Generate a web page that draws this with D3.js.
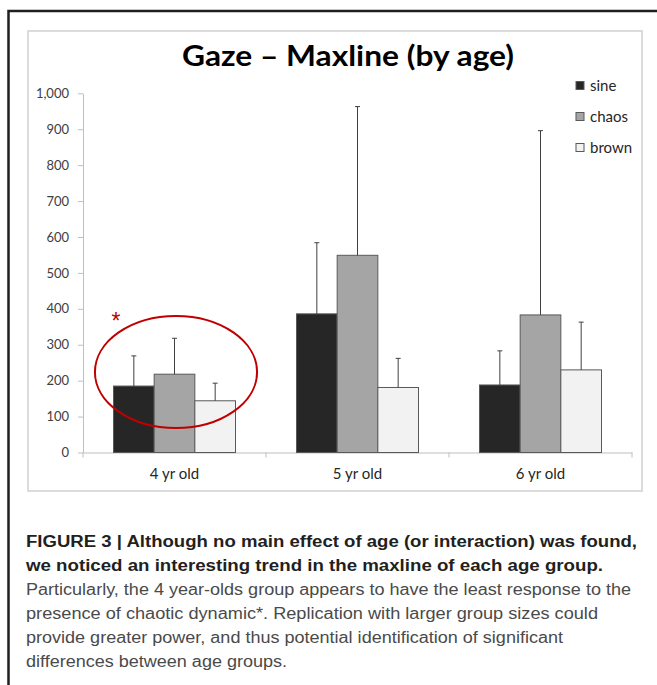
<!DOCTYPE html>
<html>
<head>
<meta charset="utf-8">
<script src="https://cdn.jsdelivr.net/npm/d3@7"></script>
<style>
  html, body { margin: 0; padding: 0; background: #fff; }
  svg { display: block; }
</style>
</head>
<body>
<svg id="chart" width="657" height="685"></svg>
<script>
// ---- Data ----
const categories = ["4 yr old", "5 yr old", "6 yr old"];
const seriesNames = ["sine", "chaos", "brown"];
const sineValues  = [185, 386, 188];
const chaosValues = [218, 549, 383];
const brownValues = [144, 181, 230];
const sineErr  = [84, 198, 95];
const chaosErr = [100, 414, 513];
const brownErr = [49, 81, 133];
const yTicks = [0, 100, 200, 300, 400, 500, 600, 700, 800, 900, 1000];
const titleText = "Gaze \u2013 Maxline (by age)";
const captionBold = [
  "FIGURE 3 | Although no main effect of age (or interaction) was found,",
  "we noticed an interesting trend in the maxline of each age group."
];
const captionRegular = [
  "Particularly, the 4 year-olds group appears to have the least response to the",
  "presence of chaotic dynamic*. Replication with larger group sizes could",
  "provide greater power, and thus potential identification of significant",
  "differences between age groups."
];

const values = { sine: sineValues, chaos: chaosValues, brown: brownValues };
const errs = { sine: sineErr, chaos: chaosErr, brown: brownErr };
const colors = { sine: "#262626", chaos: "#a5a5a5", brown: "#f2f2f2" };

const svg = d3.select("#chart");

// outer frame
svg.append("rect").attr("x", 8.5).attr("y", 11).attr("width", 720).attr("height", 720)
  .attr("fill", "none").attr("stroke", "#1f1f1f").attr("stroke-width", 2.5);

// chart box
svg.append("rect").attr("x", 28).attr("y", 31).attr("width", 614).attr("height", 460)
  .attr("fill", "#fff").attr("stroke", "#d0d0d0").attr("stroke-width", 1.5);

// title
svg.append("text").attr("x", 348).attr("y", 66).attr("text-anchor", "middle")
  .attr("font-family", "Lato").attr("font-weight", "bold").attr("font-size", 29)
  .attr("fill", "#000").attr("textLength", 332).attr("lengthAdjust", "spacingAndGlyphs")
  .text(titleText);

// scales
const x0 = d3.scaleBand().domain(categories).range([83, 632]).padding(0);
const bw = x0.bandwidth();
const barW = bw / 4.5;
const x1 = d3.scaleBand().domain(seriesNames)
  .range([(bw - 3 * barW) / 2, (bw + 3 * barW) / 2]).padding(0);
const y = d3.scaleLinear().domain([0, 1000]).range([452.5, 93.3]);

// y axis
const yAxis = d3.axisLeft(y).tickValues(yTicks).tickFormat(d3.format(","))
  .tickSize(5).tickSizeOuter(0).tickPadding(9);
const gy = svg.append("g").attr("transform", "translate(83,0)").call(yAxis);
gy.select(".domain").attr("stroke", "#bfbfbf");
gy.selectAll(".tick line").attr("stroke", "#bfbfbf");
gy.selectAll(".tick text").attr("font-family", "Lato").attr("font-size", 13).attr("fill", "#404040");

// x axis
const xAxis = d3.axisBottom(x0).tickSize(0).tickSizeOuter(0).tickPadding(16);
const gx = svg.append("g").attr("transform", `translate(0,${y(0)})`).call(xAxis);
gx.select(".domain").attr("stroke", "#bfbfbf");
gx.selectAll(".tick text").attr("font-family", "Lato").attr("font-size", 15).attr("fill", "#262626");
// category boundary ticks
const bounds = categories.map(c => x0(c)).concat([x0.range()[1]]);
gx.selectAll(".bound").data(bounds).enter().append("line")
  .attr("x1", d => d).attr("x2", d => d).attr("y1", 0).attr("y2", 5)
  .attr("stroke", "#bfbfbf");

// bars
const groups = svg.append("g").selectAll("g").data(categories).enter().append("g")
  .attr("transform", c => `translate(${x0(c)},0)`);

groups.each(function(c, i) {
  const g = d3.select(this);
  seriesNames.forEach(s => {
    const v = values[s][i];
    g.append("rect")
      .attr("x", x1(s)).attr("width", x1.bandwidth())
      .attr("y", y(v)).attr("height", y(0) - y(v))
      .attr("fill", colors[s]).attr("stroke", "#595959").attr("stroke-width", 1);
  });
  seriesNames.forEach(s => {
    const v = values[s][i], e = errs[s][i];
    const cx = x1(s) + x1.bandwidth() / 2;
    g.append("line").attr("x1", cx).attr("x2", cx).attr("y1", y(v)).attr("y2", y(v + e))
      .attr("stroke", "#404040").attr("stroke-width", 1);
    g.append("line").attr("x1", cx - 2.5).attr("x2", cx + 2.5).attr("y1", y(v + e)).attr("y2", y(v + e))
      .attr("stroke", "#404040").attr("stroke-width", 1);
  });
});

// legend
const legend = svg.append("g").selectAll("g").data(seriesNames).enter().append("g")
  .attr("transform", (d, i) => `translate(576,${85.5 + i * 31})`);
legend.append("rect").attr("x", 0).attr("y", -4).attr("width", 8).attr("height", 8)
  .attr("fill", d => colors[d]).attr("stroke", "#595959").attr("stroke-width", 1);
legend.append("text").attr("x", 14).attr("y", 0).attr("dy", "0.35em")
  .attr("font-family", "Lato").attr("font-size", 15).attr("fill", "#262626")
  .text(d => d);

// annotation ellipse + asterisk
const c0 = categories[0];
svg.append("ellipse")
  .attr("cx", x0(c0) + bw / 2 + 1.5).attr("cy", y(224))
  .attr("rx", bw * 0.443).attr("ry", (y(68) - y(380)) / 2)
  .attr("fill", "none").attr("stroke", "#c00000").attr("stroke-width", 2);
svg.append("text").attr("x", x0(c0) + bw * 0.18).attr("y", y(380)).attr("dy", "0.55em")
  .attr("text-anchor", "middle").attr("font-family", "Liberation Sans").attr("font-size", 23)
  .attr("fill", "#c00000").text("*");

// caption
const boldW = [611, 577];
const regW = [605, 572, 537, 261];
captionBold.forEach((t, i) => {
  svg.append("text").attr("x", 26).attr("y", 547 + i * 24)
    .attr("font-family", "Liberation Sans").attr("font-weight", "bold").attr("font-size", 16)
    .attr("fill", "#231f20").attr("textLength", boldW[i]).attr("lengthAdjust", "spacingAndGlyphs")
    .text(t);
});
captionRegular.forEach((t, i) => {
  svg.append("text").attr("x", 26).attr("y", 595 + i * 24)
    .attr("font-family", "Liberation Sans").attr("font-size", 16)
    .attr("fill", "#4a4a4a").attr("textLength", regW[i]).attr("lengthAdjust", "spacingAndGlyphs")
    .text(t);
});
</script>
</body>
</html>
